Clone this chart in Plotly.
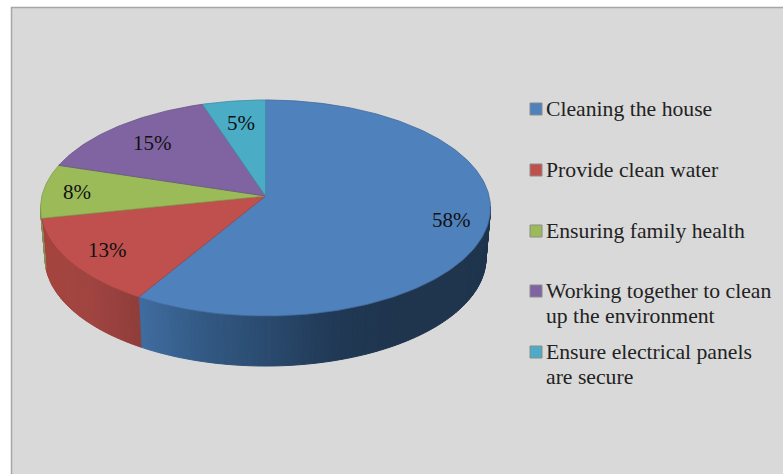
import math
import plotly.graph_objects as go

categories = ["Cleaning the house", "Provide clean water", "Ensuring family health",
              "Working together to clean<br>up the environment",
              "Ensure electrical panels<br>are secure"]
values = [58, 13, 8, 15, 5]
top_colors = ["#4f81bd", "#c0504d", "#9bbb59", "#8064a2", "#4bacc6"]
edge_colors = ["#41699a", "#9e4341", "#7f9a49", "#6a5386", "#3e8da3"]
legend_colors = ["#4f81bd", "#c0504d", "#9bbb59", "#8064a2", "#4bacc6"]
wall_ramps = [
    [(141, "#3f6c9f"), (200, "#335a85"), (270, "#2a4a6e"), (330, "#213a57"), (400, "#1f344d"), (495, "#1f344d")],
    [(40, "#a6453f"), (90, "#a04441"), (145, "#8e3d3a")],
    [(40, "#8a8a5a"), (60, "#8a8a5a")],
    [(40, "#665082"), (60, "#665082")],
    [(40, "#3c8a9f"), (60, "#3c8a9f")],
]
label_radius = [0.84, 0.82, 0.85, 0.75, 0.75]
legend_y = [109, 170, 231, 291, 352]
LINE_GAP = 25

CX, CY, A, B, K = 265.5, 196.0, 223.6, 106.7, 0.111
DEPTH, SHRINK = 50.0, 0.98


def project(theta, r=1.0):
    u, v = r * math.sin(theta), -r * math.cos(theta)
    w = 1 - K * v
    return CX + A * u / w, CY + B * v / w, v


def hex_rgb(h):
    return tuple(int(h[i:i + 2], 16) for i in (1, 3, 5))


def ramp_color(ramp, x):
    if x <= ramp[0][0]:
        return ramp[0][1]
    for (x0, c0), (x1, c1) in zip(ramp, ramp[1:]):
        if x <= x1:
            t = (x - x0) / (x1 - x0)
            a, b = hex_rgb(c0), hex_rgb(c1)
            return "rgb(%d,%d,%d)" % tuple(a[i] + (b[i] - a[i]) * t for i in range(3))
    return ramp[-1][1]


total = sum(values)
fig = go.Figure()

start = 0.0
spans = []
for val in values:
    end = start + val / total * 2 * math.pi
    spans.append((start, end))
    start = end

# side walls
for (a0, a1), ramp in zip(spans, wall_ramps):
    n = max(2, int((a1 - a0) / math.radians(1)))
    for j in range(n):
        t0 = a0 + (a1 - a0) * j / n
        t1 = a0 + (a1 - a0) * (j + 1) / n
        x0, y0, v0 = project(t0)
        x1, y1, v1 = project(t1)
        if v0 < 0.11 and v1 < 0.11:
            continue
        xs = [x0, x1, CX + (x1 - CX) * SHRINK, CX + (x0 - CX) * SHRINK, x0]
        ys = [y0, y1, y1 + DEPTH, y0 + DEPTH, y0]
        col = ramp_color(ramp, (x0 + x1) / 2)
        fig.add_trace(go.Scatter(x=xs, y=ys, mode="lines", fill="toself", fillcolor=col,
                                 line=dict(color=col, width=1), hoverinfo="skip", showlegend=False))

# top faces
for (a0, a1), name, col, edge in zip(spans, categories, top_colors, edge_colors):
    n = max(4, int((a1 - a0) / math.radians(1)))
    pts = [project(a0 + (a1 - a0) * j / n) for j in range(n + 1)]
    xs = [CX] + [p[0] for p in pts] + [CX]
    ys = [CY] + [p[1] for p in pts] + [CY]
    fig.add_trace(go.Scatter(x=xs, y=ys, mode="lines", fill="toself", fillcolor=col,
                             line=dict(color=edge, width=0.8), name=name.replace("<br>", " "),
                             hoverinfo="name", showlegend=False))

# data labels
annotations = []
for (a0, a1), val, r in zip(spans, values, label_radius):
    x, y, _ = project((a0 + a1) / 2, r)
    annotations.append(dict(x=x, y=y, text=f"{val}%", showarrow=False, xanchor="center", yanchor="middle",
                            font=dict(family="Liberation Serif", size=21, color="#111111")))

# legend
fig.add_trace(go.Scatter(x=[536] * len(categories), y=legend_y, mode="markers",
                         marker=dict(symbol="square", size=12, color=legend_colors,
                                     line=dict(color="#8a8a8a", width=1)),
                         hoverinfo="skip", showlegend=False))
for name, y in zip(categories, legend_y):
    for k, part in enumerate(name.split("<br>")):
        annotations.append(dict(x=546, y=y + k * LINE_GAP, text=part, showarrow=False, xanchor="left",
                                yanchor="middle", align="left", xshift=-2,
                                font=dict(family="Liberation Serif", size=21.7, color="#222222")))

fig.update_layout(
    width=783, height=474, margin=dict(l=0, r=0, t=0, b=0),
    paper_bgcolor="white", plot_bgcolor="white", showlegend=False,
    xaxis=dict(range=[0, 783], visible=False, fixedrange=True),
    yaxis=dict(range=[474, 0], visible=False, fixedrange=True),
    annotations=annotations,
    shapes=[dict(type="rect", xref="x", yref="y", x0=11.5, y0=7.5, x1=800, y1=500, layer="below",
                 fillcolor="#d9d9d9", line=dict(color="#a6a6a6", width=1.5))],
)
fig.write_html("out.html", config=dict(displayModeBar=False),
               post_script="document.body.style.margin='0';document.documentElement.style.overflow='hidden';")
